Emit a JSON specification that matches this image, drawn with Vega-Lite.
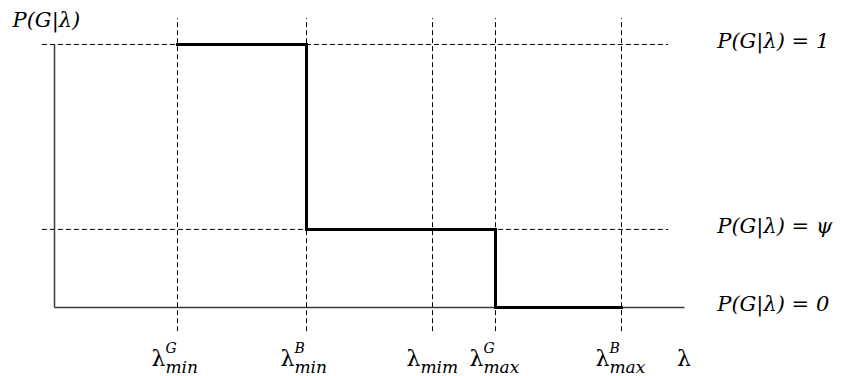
{
  "$schema": "https://vega.github.io/schema/vega-lite/v6.json",
  "width": 842,
  "height": 376,
  "padding": 0,
  "autosize": {"type": "fit", "contains": "padding"},
  "background": "white",
  "config": {"view": {"stroke": null}, "text": {"font": "DejaVu Serif", "color": "black"}},
  "datasets": {
    "thresholds": [
      {"lam": 0.976, "sup": "G", "sub": "min"},
      {"lam": 2.0, "sup": "B", "sub": "min"},
      {"lam": 3.0, "sup": "", "sub": "mim"},
      {"lam": 3.5, "sup": "G", "sub": "max"},
      {"lam": 4.5, "sup": "B", "sub": "max"}
    ],
    "levels": [
      {"p": 1.0, "label": "P(G|λ) = 1"},
      {"p": 0.297, "label": "P(G|λ) = ψ"},
      {"p": 0.0, "label": "P(G|λ) = 0"}
    ],
    "step": [
      {"i": 0, "lam": 0.976, "p": 1.0},
      {"i": 1, "lam": 2.0, "p": 1.0},
      {"i": 2, "lam": 2.0, "p": 0.297},
      {"i": 3, "lam": 3.5, "p": 0.297},
      {"i": 4, "lam": 3.5, "p": 0.0},
      {"i": 5, "lam": 4.5, "p": 0.0}
    ]
  },
  "resolve": {"scale": {"x": "shared", "y": "shared"}},
  "layer": [
    {
      "data": {"name": "thresholds"},
      "mark": {"type": "rule", "strokeDash": [5, 3], "strokeWidth": 1, "color": "black"},
      "encoding": {
        "x": {"field": "lam", "type": "quantitative", "scale": {"domain": [-0.4326, 6.250], "nice": false, "zero": false}, "axis": null},
        "y": {"datum": -0.09, "type": "quantitative", "scale": {"domain": [-0.2605, 1.1692], "nice": false, "zero": false}, "axis": null},
        "y2": {"datum": 1.1}
      }
    },
    {
      "data": {"name": "levels"},
      "transform": [{"filter": "datum.p > 0"}],
      "mark": {"type": "rule", "strokeDash": [5, 3], "strokeWidth": 1, "color": "black"},
      "encoding": {
        "y": {"field": "p", "type": "quantitative"},
        "x": {"datum": -0.1, "type": "quantitative"},
        "x2": {"datum": 4.87}
      }
    },
    {
      "data": {"values": [{"kind": "axis"}]},
      "mark": {"type": "rule", "strokeWidth": 1.5, "color": "#3a3a3a"},
      "encoding": {
        "x": {"datum": 0, "type": "quantitative"},
        "y": {"datum": 0, "type": "quantitative"},
        "y2": {"datum": 1}
      }
    },
    {
      "data": {"values": [{"kind": "axis"}]},
      "mark": {"type": "rule", "strokeWidth": 1.5, "color": "#3a3a3a"},
      "encoding": {
        "y": {"datum": 0, "type": "quantitative"},
        "x": {"datum": 0, "type": "quantitative"},
        "x2": {"datum": 5}
      }
    },
    {
      "data": {"name": "step"},
      "mark": {"type": "line", "strokeWidth": 3, "color": "black", "strokeCap": "square"},
      "encoding": {
        "x": {"field": "lam", "type": "quantitative"},
        "y": {"field": "p", "type": "quantitative"},
        "order": {"field": "i", "type": "quantitative"}
      }
    },
    {
      "data": {"name": "levels"},
      "mark": {"type": "text", "align": "left", "baseline": "alphabetic", "dy": 4, "fontSize": 21, "fontStyle": "italic"},
      "encoding": {
        "x": {"datum": 5.26, "type": "quantitative"},
        "y": {"field": "p", "type": "quantitative"},
        "text": {"field": "label"}
      }
    },
    {
      "data": {"values": [{"label": "P(G|λ)"}]},
      "mark": {"type": "text", "align": "left", "baseline": "alphabetic", "fontSize": 21, "fontStyle": "italic"},
      "encoding": {
        "x": {"datum": -0.333, "type": "quantitative"},
        "y": {"datum": 1.065, "type": "quantitative"},
        "text": {"field": "label"}
      }
    },
    {
      "data": {"name": "thresholds"},
      "mark": {"type": "text", "align": "left", "baseline": "alphabetic", "dx": -26, "fontSize": 22},
      "encoding": {
        "x": {"field": "lam", "type": "quantitative"},
        "y": {"datum": -0.224, "type": "quantitative"},
        "text": {"value": "λ"}
      }
    },
    {
      "data": {"name": "thresholds"},
      "mark": {"type": "text", "align": "left", "baseline": "alphabetic", "dx": -12, "fontSize": 14, "fontStyle": "italic"},
      "encoding": {
        "x": {"field": "lam", "type": "quantitative"},
        "y": {"datum": -0.172, "type": "quantitative"},
        "text": {"field": "sup"}
      }
    },
    {
      "data": {"name": "thresholds"},
      "mark": {"type": "text", "align": "left", "baseline": "alphabetic", "dx": -12, "fontSize": 17, "fontStyle": "italic"},
      "encoding": {
        "x": {"field": "lam", "type": "quantitative"},
        "y": {"datum": -0.248, "type": "quantitative"},
        "text": {"field": "sub"}
      }
    },
    {
      "data": {"values": [{"label": "λ"}]},
      "mark": {"type": "text", "align": "left", "baseline": "alphabetic", "fontSize": 22},
      "encoding": {
        "x": {"datum": 4.94, "type": "quantitative"},
        "y": {"datum": -0.224, "type": "quantitative"},
        "text": {"field": "label"}
      }
    }
  ]
}
